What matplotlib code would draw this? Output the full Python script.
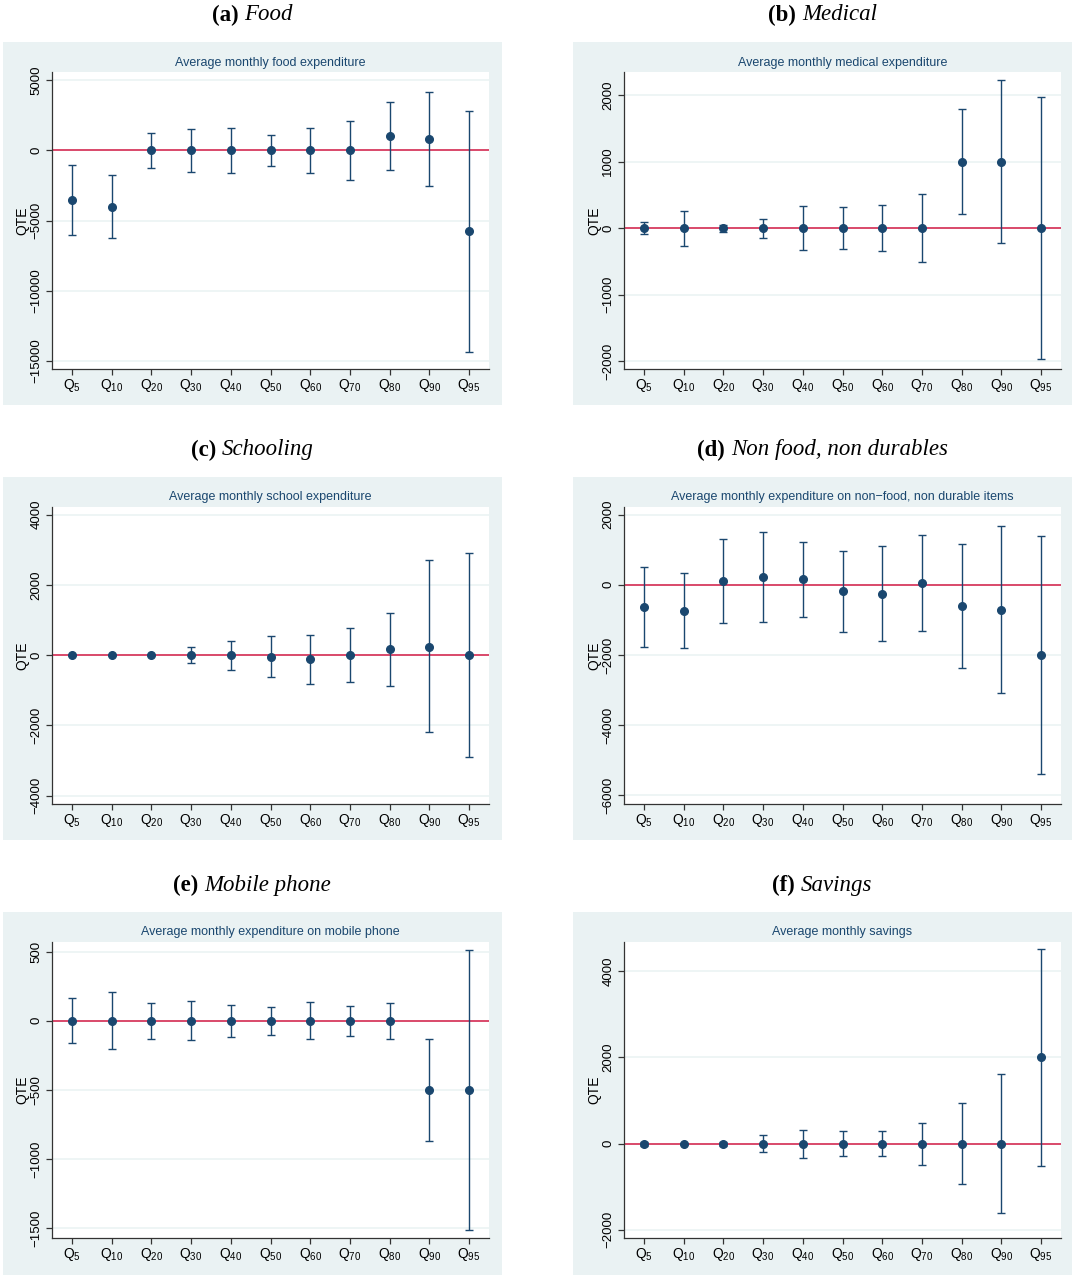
import matplotlib
matplotlib.use('Agg')
import matplotlib.pyplot as plt
from matplotlib.patches import Rectangle

plt.rcParams['font.family'] = ['Liberation Sans', 'DejaVu Sans']
plt.rcParams['mathtext.fontset'] = 'custom'
plt.rcParams['mathtext.rm'] = 'Liberation Sans'
plt.rcParams['mathtext.default'] = 'rm'

quantiles = [5, 10, 20, 30, 40, 50, 60, 70, 80, 90, 95]
qlabels = ['Q$_{%d}$' % q for q in quantiles]

# (a) food
food_pt = [-3500, -4000, 0, 0, 0, 0, 0, 0, 1000, 800, -5750]
food_lo = [-5990, -6250, -1260, -1500, -1640, -1140, -1615, -2115, -1425, -2520, -14350]
food_hi = [-1045, -1780, 1235, 1500, 1615, 1095, 1570, 2090, 3420, 4160, 2830]

# (b) medical
med_pt = [0, 0, 0, 0, 0, 0, 0, 0, 1000, 1000, 0]
med_lo = [-85, -262, -50, -142, -328, -312, -338, -514, 216, -221, -1960]
med_hi = [88, 265, 50, 145, 330, 315, 345, 516, 1790, 2228, 1965]

# (c) schooling
sch_pt = [0, 0, 0, 0, 0, -50, -115, 0, 165, 245, 0]
sch_lo = [0, 0, 0, -235, -410, -608, -817, -770, -875, -2195, -2905]
sch_hi = [0, 0, 0, 230, 410, 532, 580, 770, 1205, 2698, 2900]

# (d) non food, non durables
nfd_pt = [-645, -740, 105, 210, 150, -190, -255, 57, -600, -720, -2005]
nfd_lo = [-1780, -1805, -1095, -1055, -912, -1350, -1608, -1313, -2360, -3100, -5385]
nfd_hi = [505, 333, 1303, 1495, 1227, 970, 1095, 1427, 1170, 1665, 1380]

# (e) mobile phone
mob_pt = [0, 0, 0, 0, 0, 0, 0, 0, 0, -500, -500]
mob_lo = [-164, -207, -133, -142, -118, -104, -135, -109, -133, -868, -1517]
mob_hi = [162, 207, 130, 142, 116, 100, 133, 109, 130, -133, 514]

# (f) savings
sav_pt = [0, 0, 0, 0, 0, 0, 0, 0, 0, 0, 2000]
sav_lo = [-46, -20, -46, -198, -324, -300, -295, -486, -948, -1618, -510]
sav_hi = [46, 20, 46, 195, 324, 300, 300, 480, 948, 1618, 4500]

panels = [
    ('(a)', 'Food', 'Average monthly food expenditure',
     food_pt, food_lo, food_hi, [-15000, -10000, -5000, 0, 5000], (-15570, 5590)),
    ('(b)', 'Medical', 'Average monthly medical expenditure',
     med_pt, med_lo, med_hi, [-2000, -1000, 0, 1000, 2000], (-2117, 2348)),
    ('(c)', 'Schooling', 'Average monthly school expenditure',
     sch_pt, sch_lo, sch_hi, [-4000, -2000, 0, 2000, 4000], (-4238, 4218)),
    ('(d)', 'Non food, non durables',
     'Average monthly expenditure on non\u2212food, non durable items',
     nfd_pt, nfd_lo, nfd_hi, [-6000, -4000, -2000, 0, 2000], (-6250, 2216)),
    ('(e)', 'Mobile phone', 'Average monthly expenditure on mobile phone',
     mob_pt, mob_lo, mob_hi, [-1500, -1000, -500, 0, 500], (-1573, 569)),
    ('(f)', 'Savings', 'Average monthly savings',
     sav_pt, sav_lo, sav_hi, [-2000, 0, 2000, 4000], (-2189, 4671)),
]

W, H = 1073, 1277
fig = plt.figure(figsize=(W / 100, H / 100), dpi=100)
fig.patch.set_facecolor('white')

navy = '#1a476f'
bg = '#eaf2f3'
red = '#d41a45'

col_box = [(3, 502), (573, 1072)]
col_ax = [(52, 489), (624, 1061)]
row_box = [(42, 405), (477, 840), (912, 1275)]
row_ax = [(72, 369), (507, 804), (942, 1238)]
row_cap = [15, 450, 885]
row_title = [63, 497, 932]

r = fig.canvas.get_renderer()
x = list(range(1, 12))

for i, (tag, name, title, pt, lo, hi, yt, yl) in enumerate(panels):
    row, col = i // 2, i % 2
    bx0, bx1 = col_box[col]
    by0, by1 = row_box[row]
    box = Rectangle((bx0 / W, 1 - by1 / H), (bx1 - bx0) / W, (by1 - by0) / H,
                    transform=fig.transFigure, facecolor=bg, edgecolor='none', zorder=-5)
    fig.add_artist(box)
    ax0, ax1 = col_ax[col]
    ay0, ay1 = row_ax[row]
    ax = fig.add_axes([ax0 / W, 1 - ay1 / H, (ax1 - ax0) / W, (ay1 - ay0) / H])
    ax.set_facecolor('white')

    err = [[p - l for p, l in zip(pt, lo)], [h - p for p, h in zip(pt, hi)]]
    ax.axhline(0, color=red, lw=1.1, zorder=1.5)
    ax.errorbar(x, pt, yerr=err, fmt='none', ecolor=navy, elinewidth=1.0,
                capsize=2.8, capthick=1.0, zorder=2)
    ax.plot(x, pt, 'o', color=navy, ms=5.5, zorder=3)

    ax.set_xlim(0.5, 11.5)
    ax.set_ylim(*yl)
    ax.set_yticks(yt)
    ax.set_xticks(x)
    ax.set_xticklabels(qlabels)
    ax.grid(axis='y', color=bg, lw=1.1)
    ax.set_axisbelow(True)
    for s in ['top', 'right']:
        ax.spines[s].set_visible(False)
    for s in ['left', 'bottom']:
        ax.spines[s].set_color('#333333')
        ax.spines[s].set_linewidth(0.9)
    ax.tick_params(axis='both', length=4, width=0.9, color='#333333')
    ax.tick_params(axis='x', labelsize=10, pad=2)
    ax.tick_params(axis='y', labelrotation=90, labelsize=9.5, pad=3)
    for lab in ax.get_yticklabels():
        lab.set_va('center')

    fig.text((ax0 - 30) / W, 1 - (ay0 + ay1) / 2 / H, 'QTE', rotation=90,
             ha='center', va='center', fontsize=10)
    fig.text((ax0 + ax1) / 2 / W, 1 - row_title[row] / H, title, ha='center', va='center',
             fontsize=9, color=navy)

    # caption: bold tag + italic name
    cx = (bx0 + bx1) / 2
    cy = 1 - row_cap[row] / H
    t1 = fig.text(0, cy, tag, fontsize=16.5, weight='bold', family='Liberation Serif',
                  va='center', ha='left')
    t2 = fig.text(0, cy, name, fontsize=16.5, style='italic', family='Liberation Serif',
                  va='center', ha='left')
    w1 = t1.get_window_extent(r).width
    w2 = t2.get_window_extent(r).width
    gap = 6
    start = cx - (w1 + w2 + gap) / 2
    t1.set_x(start / W)
    t2.set_x((start + w1 + gap) / W)

fig.savefig('out.png', dpi=100)
